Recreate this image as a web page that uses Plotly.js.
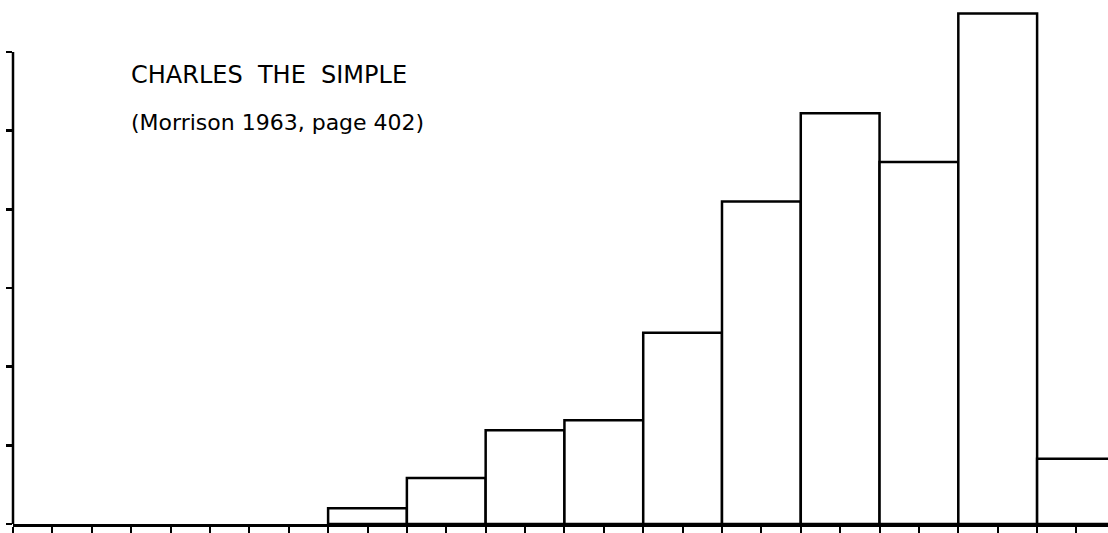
<!DOCTYPE html>
<html>
<head>
<meta charset="utf-8">
<script src="https://cdn.plot.ly/plotly-3.0.1.min.js"></script>
<style>
  html, body { margin: 0; padding: 0; background: #fff; }
  #chart { width: 1108px; height: 533px; }
</style>
</head>
<body>
<div id="chart"></div>
<script>
// Histogram bins (left edge, in bin units) and bar heights (in y-tick units)
const binStart = [4, 5, 6, 7, 8, 9, 10, 11, 12, 13];
const counts   = [0.20, 0.585, 1.19, 1.32, 2.43, 4.10, 5.22, 4.60, 6.49, 0.83];
const titleLine1 = "CHARLES  THE  SIMPLE";
const titleLine2 = "(Morrison 1963, page 402)";

const trace = {
  type: 'bar',
  x: binStart,
  y: counts,
  width: 1,
  offset: 0,
  marker: { color: '#ffffff', line: { color: '#000000', width: 2.5 } },
  hoverinfo: 'skip'
};

const layout = {
  width: 1108, height: 533,
  margin: { l: 13, r: 0, t: 0, b: 9, pad: 0 },
  paper_bgcolor: '#ffffff', plot_bgcolor: '#ffffff',
  showlegend: false,
  bargap: 0,
  xaxis: {
    range: [0, 13.9],
    showgrid: false, zeroline: false,
    showline: true, linecolor: '#000', linewidth: 2.5,
    ticks: 'outside', ticklen: 6, tickwidth: 2, tickcolor: '#000',
    tick0: 0, dtick: 0.5,
    showticklabels: false
  },
  yaxis: {
    range: [0, 6.66],
    showgrid: false, zeroline: false,
    showline: false,
    ticks: 'outside', ticklen: 6, tickwidth: 2.5, tickcolor: '#000',
    tick0: 0, dtick: 1,
    showticklabels: false
  },
  shapes: [{
    type: 'line', xref: 'paper', yref: 'y',
    x0: 0, x1: 0, y0: 0, y1: 6,
    line: { color: '#000', width: 2.5 }
  }],
  annotations: [
    { xref: 'paper', yref: 'paper', x: 0.106, y: 0.857, xanchor: 'left', yanchor: 'middle',
      text: titleLine1, showarrow: false,
      font: { family: 'DejaVu Sans', size: 24, color: '#000' } },
    { xref: 'paper', yref: 'paper', x: 0.106, y: 0.767, xanchor: 'left', yanchor: 'middle',
      text: titleLine2, showarrow: false,
      font: { family: 'DejaVu Sans', size: 22, color: '#000' } }
  ]
};

Plotly.newPlot('chart', [trace], layout, { staticPlot: true, displayModeBar: false });
</script>
</body>
</html>
